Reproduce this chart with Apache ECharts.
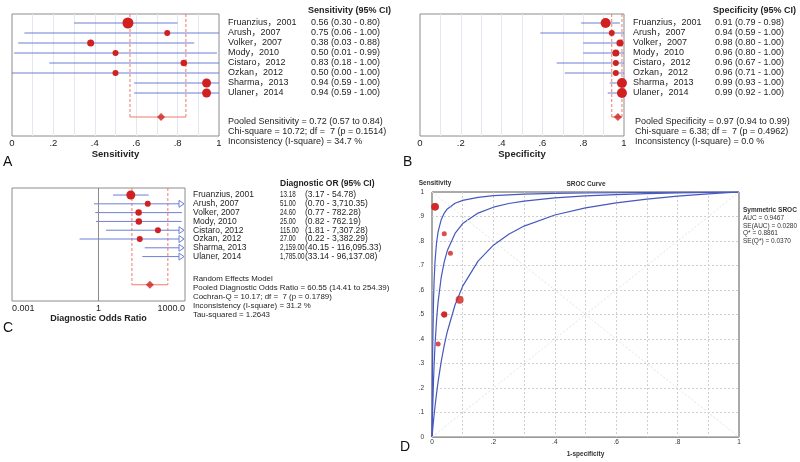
<!DOCTYPE html>
<html>
<head>
<meta charset="utf-8">
<script src="https://cdn.jsdelivr.net/npm/echarts@6.0.0/dist/echarts.min.js"></script>
<style>
  html, body { margin: 0; padding: 0; background: #fff; }
  #main { width: 800px; height: 462px; }
</style>
</head>
<body>
<div id="main"></div>
<script>
// ---- data ----
const studies = ['Fruanzius', 'Arush', 'Volker', 'Mody', 'Cistaro', 'Ozkan', 'Sharma', 'Ulaner']
const years = [2001, 2007, 2007, 2010, 2012, 2012, 2013, 2014]

const sens = [0.56, 0.75, 0.38, 0.50, 0.83, 0.50, 0.94, 0.94]
const sensLo = [0.30, 0.06, 0.03, 0.01, 0.18, 0.00, 0.59, 0.59]
const sensHi = [0.80, 1.00, 0.88, 0.99, 1.00, 1.00, 1.00, 1.00]
const pooledSens = [0.72, 0.57, 0.84]
const sensStats = ['Chi-square = 10.72; df =  7 (p = 0.1514)', 'Inconsistency (I-square) = 34.7 %']

const spec = [0.91, 0.94, 0.98, 0.96, 0.96, 0.96, 0.99, 0.99]
const specLo = [0.79, 0.59, 0.80, 0.80, 0.67, 0.71, 0.93, 0.92]
const specHi = [0.98, 1.00, 1.00, 1.00, 1.00, 1.00, 1.00, 1.00]
const pooledSpec = [0.97, 0.94, 0.99]
const specStats = ['Chi-square = 6.38; df =  7 (p = 0.4962)', 'Inconsistency (I-square) = 0.0 %']

const dor = [13.18, 51.00, 24.60, 25.00, 115.00, 27.00, 2159.00, 1785.00]
const dorLo = [3.17, 0.70, 0.77, 0.82, 1.81, 0.22, 40.15, 33.14]
const dorHi = [54.78, 3710.35, 782.28, 762.19, 7307.28, 3382.29, 116095.33, 96137.08]
const pooledDor = [60.55, 14.41, 254.39]
const dorStats = ['Cochran-Q = 10.17; df =  7 (p = 0.1789)', 'Inconsistency (I-square) = 31.2 %', 'Tau-squared = 1.2643']

// SROC curves (1-specificity vs sensitivity)
const srocFpr = [0, 0.001, 0.002, 0.005, 0.007, 0.01, 0.015, 0.02, 0.03, 0.04, 0.05, 0.075, 0.1, 0.15, 0.2, 0.25, 0.3, 0.4, 0.5, 0.6, 0.7, 0.8, 0.9, 1]
const srocMid = [0, 0.057, 0.108, 0.233, 0.299, 0.380, 0.480, 0.553, 0.652, 0.716, 0.761, 0.831, 0.871, 0.914, 0.938, 0.953, 0.963, 0.976, 0.984, 0.989, 0.993, 0.996, 0.998, 1]
const srocLow = [0, 0.014, 0.028, 0.068, 0.092, 0.127, 0.180, 0.227, 0.308, 0.375, 0.431, 0.539, 0.616, 0.718, 0.783, 0.828, 0.861, 0.906, 0.935, 0.956, 0.971, 0.983, 0.992, 1]
const srocHigh = [0, 0.203, 0.338, 0.561, 0.642, 0.720, 0.795, 0.838, 0.887, 0.914, 0.931, 0.954, 0.966, 0.978, 0.985, 0.988, 0.991, 0.994, 0.996, 0.997, 0.998, 0.999, 1.000, 1]
const srocStats = ['AUC = 0.9467', 'SE(AUC) = 0.0280', 'Q* = 0.8861', 'SE(Q*) = 0.0370']

const forestTicks = ['0', '.2', '.4', '.6', '.8', '1']
const orTicks = ['0.001', '1', '1000.0']

// ---- styles ----
const FONT = '"Liberation Sans", Arial, "Noto Sans CJK SC", sans-serif'
const ciColor = '#6d7fd6'
const dotColor = '#d02020'
const pooledColor = '#f07a68'
const faint = '#e4e8f2'
const boxColor = '#8c8c8c'
const curveColor = '#4658bd'
// marker diameters (study weight)
const sizeA = [11, 6, 7, 6, 6.5, 6, 9, 9]
const sizeB = [10, 6, 7, 7, 6, 6, 10, 10]
const sizeC = [9, 6, 6.5, 6.5, 6, 6, 6, 6]
const sizeD = [8, 5, 5, 6, 5, 6, 7.5, 7.5]

// row layout of the forest panels (in row units)
const forestRows = { top: -0.9, bottom: 11.3, pooled: 9.4 }
const orRows = { top: -0.8, bottom: 12.05, pooled: 10.2 }

const fmt2 = v => v.toLocaleString('en-US', { minimumFractionDigits: 2, maximumFractionDigits: 2 })

function tickFmt (v) {
  const r = Math.round(v * 10)
  if (r % 2) return ''
  return forestTicks[r / 2]
}

// confidence interval lines, with an open arrow when clipped at the axis end
function ciSeries (g, lo, hi, maxX) {
  return {
    type: 'custom', xAxisIndex: g, yAxisIndex: g, silent: true, z: 2,
    data: lo.map((v, i) => [v, hi[i], i]),
    renderItem: (params, api) => {
      const a = api.coord([api.value(0), api.value(2)])
      const over = api.value(1) > maxX
      const b = api.coord([over ? maxX : api.value(1), api.value(2)])
      const children = [{
        type: 'line', shape: { x1: a[0], y1: a[1], x2: over ? b[0] - 2 : b[0], y2: b[1] },
        style: { stroke: ciColor, lineWidth: 1 }
      }]
      if (over) {
        children.push({
          type: 'polygon',
          shape: { points: [[b[0] - 6, b[1] - 3.5], [b[0] - 1, b[1]], [b[0] - 6, b[1] + 3.5]] },
          style: { fill: '#fff', stroke: ciColor, lineWidth: 1 }
        })
      }
      return { type: 'group', children }
    }
  }
}

// dashed pooled CI bracket
function bracketSeries (g, p, rows) {
  return {
    type: 'custom', xAxisIndex: g, yAxisIndex: g, silent: true, z: 1,
    data: [[p[1], p[2]]],
    renderItem: (params, api) => {
      const l0 = api.coord([api.value(0), rows.top])
      const l1 = api.coord([api.value(0), rows.pooled])
      const r0 = api.coord([api.value(1), rows.top])
      const r1 = api.coord([api.value(1), rows.pooled])
      const dash = { stroke: pooledColor, lineWidth: 1, lineDash: [3, 2] }
      return {
        type: 'group',
        children: [
          { type: 'line', shape: { x1: l0[0], y1: l0[1], x2: l1[0], y2: l1[1] }, style: dash },
          { type: 'line', shape: { x1: r0[0], y1: r0[1], x2: r1[0], y2: r1[1] }, style: dash },
          { type: 'line', shape: { x1: l1[0], y1: l1[1], x2: r1[0], y2: r1[1] }, style: { stroke: pooledColor, lineWidth: 1.2 } }
        ]
      }
    }
  }
}

function dotSeries (g, vals, sizes, extra) {
  return Object.assign({
    type: 'scatter', xAxisIndex: g, yAxisIndex: g, silent: true, z: 3,
    itemStyle: { color: dotColor, opacity: 1 },
    data: vals.map((v, i) => ({ value: [v, i], symbolSize: sizes[i] }))
  }, extra || {})
}

function diamondSeries (g, p, rows) {
  return {
    type: 'scatter', xAxisIndex: g, yAxisIndex: g, silent: true, z: 3,
    symbol: 'diamond', symbolSize: [8, 8],
    itemStyle: { color: dotColor },
    data: [[p[0], rows.pooled]]
  }
}

function forestX (g, name) {
  return {
    gridIndex: g, type: 'value', min: 0, max: 1, interval: 0.1,
    axisLine: { show: false }, axisTick: { show: false },
    splitLine: { show: true, showMinLine: false, showMaxLine: false, lineStyle: { color: faint, width: 1 } },
    axisLabel: { formatter: tickFmt, fontSize: 9.5, color: '#222', margin: 3, fontFamily: FONT },
    name, nameLocation: 'middle', nameGap: 12,
    nameTextStyle: { fontWeight: 'bold', fontSize: 9.5, color: '#222', fontFamily: FONT }
  }
}

const rocTick = v => {
  const r = Math.round(v * 10)
  return r === 0 ? '0' : r === 10 ? '1' : '.' + r
}

const chart = echarts.init(document.getElementById('main'))

const gridBox = { show: true, borderColor: boxColor, borderWidth: 1, backgroundColor: 'transparent' }

chart.setOption({
  animation: false,
  backgroundColor: '#fff',
  textStyle: { fontFamily: FONT },
  grid: [
    Object.assign({ left: 12, top: 14, width: 207, height: 122 }, gridBox),
    Object.assign({ left: 420, top: 14, width: 204, height: 122 }, gridBox),
    Object.assign({ left: 12, top: 188, width: 173, height: 113 }, gridBox),
    Object.assign({ left: 432, top: 192, width: 307, height: 252 }, gridBox, { borderColor: '#555' })
  ],
  xAxis: [
    forestX(0, 'Sensitivity'),
    forestX(1, 'Specificity'),
    {
      gridIndex: 2, type: 'log', logBase: 1000, min: 0.001, max: 1000,
      axisLine: { show: false }, axisTick: { show: false }, splitLine: { show: false }, minorTick: { show: false },
      axisLabel: {
        formatter: v => orTicks[Math.round(Math.log10(v) / 3) + 1],
        fontSize: 9, color: '#222', margin: 3, alignMinLabel: 'left', alignMaxLabel: 'right', fontFamily: FONT,
        padding: [0, 0, 0, 0]
      },
      name: 'Diagnostic Odds Ratio', nameLocation: 'middle', nameGap: 10,
      nameTextStyle: { fontWeight: 'bold', fontSize: 9, color: '#222', fontFamily: FONT }
    },
    {
      gridIndex: 3, type: 'value', min: 0, max: 1, interval: 0.1,
      axisLine: { show: false }, axisTick: { show: false },
      splitLine: { show: true, showMinLine: false, showMaxLine: false, lineStyle: { color: '#cfcfcf', type: [2, 2], width: 1 } },
      axisLabel: { formatter: v => (Math.round(v * 10) % 2 ? '' : rocTick(v)), fontSize: 6.5, color: '#333', margin: 2, fontFamily: FONT },
      name: '1-specificity', nameLocation: 'middle', nameGap: 8,
      nameTextStyle: { fontWeight: 'bold', fontSize: 6.5, color: '#333', fontFamily: FONT }
    }
  ],
  yAxis: [
    { gridIndex: 0, type: 'value', inverse: true, min: forestRows.top, max: forestRows.bottom, show: false },
    { gridIndex: 1, type: 'value', inverse: true, min: forestRows.top, max: forestRows.bottom, show: false },
    { gridIndex: 2, type: 'value', inverse: true, min: orRows.top, max: orRows.bottom, show: false },
    {
      gridIndex: 3, type: 'value', min: 0, max: 1, interval: 0.1,
      axisLine: { show: false }, axisTick: { show: false },
      splitLine: { show: true, showMinLine: false, showMaxLine: false, lineStyle: { color: '#cfcfcf', type: [2, 2], width: 1 } },
      axisLabel: { formatter: rocTick, fontSize: 6.5, color: '#333', margin: 8, fontFamily: FONT },
      name: 'Sensitivity', nameLocation: 'end', nameGap: 6,
      nameTextStyle: { fontWeight: 'bold', fontSize: 6.5, color: '#333', fontFamily: FONT, padding: [0, 0, 0, 6] }
    }
  ],
  series: [
    // A: sensitivity
    ciSeries(0, sensLo, sensHi, 1),
    bracketSeries(0, pooledSens, forestRows),
    dotSeries(0, sens, sizeA),
    diamondSeries(0, pooledSens, forestRows),
    // B: specificity
    ciSeries(1, specLo, specHi, 1),
    bracketSeries(1, pooledSpec, forestRows),
    dotSeries(1, spec, sizeB),
    diamondSeries(1, pooledSpec, forestRows),
    // C: diagnostic odds ratio
    ciSeries(2, dorLo, dorHi, 1000),
    bracketSeries(2, pooledDor, orRows),
    dotSeries(2, dor, sizeC, {
      markLine: {
        silent: true, symbol: 'none', label: { show: false },
        lineStyle: { color: '#8c8c8c', type: 'solid', width: 1 },
        data: [{ xAxis: 1 }]
      }
    }),
    diamondSeries(2, pooledDor, orRows),
    // D: SROC
    {
      type: 'line', xAxisIndex: 3, yAxisIndex: 3, silent: true, symbol: 'none', z: 1,
      lineStyle: { color: 'transparent' },
      data: [[0, 0], [1, 1]],
      markLine: {
        silent: true, symbol: 'none', label: { show: false },
        lineStyle: { color: '#e4e4e4', type: [2, 2], width: 1 },
        data: [[{ coord: [0, 0] }, { coord: [1, 1] }], [{ coord: [0, 1] }, { coord: [1, 0] }]]
      }
    },
    ...[srocLow, srocMid, srocHigh].map(curve => ({
      type: 'line', xAxisIndex: 3, yAxisIndex: 3, silent: true, symbol: 'none', z: 2,
      lineStyle: { color: curveColor, width: 1.2 },
      data: srocFpr.map((x, i) => [x, curve[i]])
    })),
    {
      type: 'scatter', xAxisIndex: 3, yAxisIndex: 3, silent: true, z: 3,
      itemStyle: { color: dotColor },
      data: spec.map((s, i) => ({ value: [+(1 - s).toFixed(2), sens[i]], symbolSize: sizeD[i] }))
    }
  ]
})

// ---- text table next to each panel ----
function txt (x, y, s, opt) {
  opt = opt || {}
  return {
    type: 'text', x, y, silent: true, z: 10,
    scaleX: opt.scaleX || 1,
    style: {
      text: s,
      font: (opt.bold ? 'bold ' : '') + (opt.size || 9) + 'px ' + FONT,
      fill: opt.color || '#1e1e1e',
      align: opt.align || 'left',
      verticalAlign: 'middle'
    }
  }
}

const rowPx = (g, i) => chart.convertToPixel({ gridIndex: g }, [1, i])[1]
const ci2 = (v, lo, hi) => v.toFixed(2) + ' (' + lo.toFixed(2) + ' - ' + hi.toFixed(2) + ')'

const graphic = []
// headers
graphic.push(txt(308, 11, 'Sensitivity (95% CI)', { bold: true }))
graphic.push(txt(713, 11, 'Specificity (95% CI)', { bold: true }))
graphic.push(txt(280, 184, 'Diagnostic OR (95% CI)', { bold: true, size: 8.5 }))

studies.forEach((s, i) => {
  const ya = rowPx(0, i)
  graphic.push(txt(228, ya, s + '，' + years[i]))
  graphic.push(txt(311, ya, ci2(sens[i], sensLo[i], sensHi[i])))
  const yb = rowPx(1, i)
  graphic.push(txt(633, yb, s + '，' + years[i]))
  graphic.push(txt(715, yb, ci2(spec[i], specLo[i], specHi[i])))
  const yc = rowPx(2, i)
  graphic.push(txt(193, yc, s + ', ' + years[i], { size: 8.5 }))
  graphic.push(txt(280, yc, fmt2(dor[i]), { size: 8.5, scaleX: 0.74 }))
  graphic.push(txt(305, yc, '(' + fmt2(dorLo[i]) + ' - ' + fmt2(dorHi[i]) + ')', { size: 8.5 }))
})

const sumA = ['Pooled Sensitivity = ' + pooledSens[0].toFixed(2) + ' (' + pooledSens[1].toFixed(2) + ' to ' + pooledSens[2].toFixed(2) + ')'].concat(sensStats)
const sumB = ['Pooled Specificity = ' + pooledSpec[0].toFixed(2) + ' (' + pooledSpec[1].toFixed(2) + ' to ' + pooledSpec[2].toFixed(2) + ')'].concat(specStats)
const sumC = ['Random Effects Model', 'Pooled Diagnostic Odds Ratio = ' + fmt2(pooledDor[0]) + ' (' + fmt2(pooledDor[1]) + ' to ' + fmt2(pooledDor[2]) + ')'].concat(dorStats)
sumA.forEach((s, i) => graphic.push(txt(228, 122 + i * 10, s)))
sumB.forEach((s, i) => graphic.push(txt(635, 122 + i * 10, s)))
sumC.forEach((s, i) => graphic.push(txt(193, 278.5 + i * 9, s, { size: 7.9 })))

// SROC panel texts
graphic.push(txt(586, 184, 'SROC Curve', { bold: true, size: 6.5, align: 'center', color: '#333' }))
graphic.push(txt(743, 210, 'Symmetric SROC', { bold: true, size: 6.5, color: '#333' }))
srocStats.forEach((s, i) => graphic.push(txt(743, 218 + i * 7.8, s, { size: 6.5, color: '#333' })))

// panel letters
graphic.push(txt(3, 162, 'A', { size: 14, color: '#111' }))
graphic.push(txt(403, 162, 'B', { size: 14, color: '#111' }))
graphic.push(txt(3, 328, 'C', { size: 14, color: '#111' }))
graphic.push(txt(400, 447, 'D', { size: 14, color: '#111' }))

chart.setOption({ graphic })
</script>
</body>
</html>
